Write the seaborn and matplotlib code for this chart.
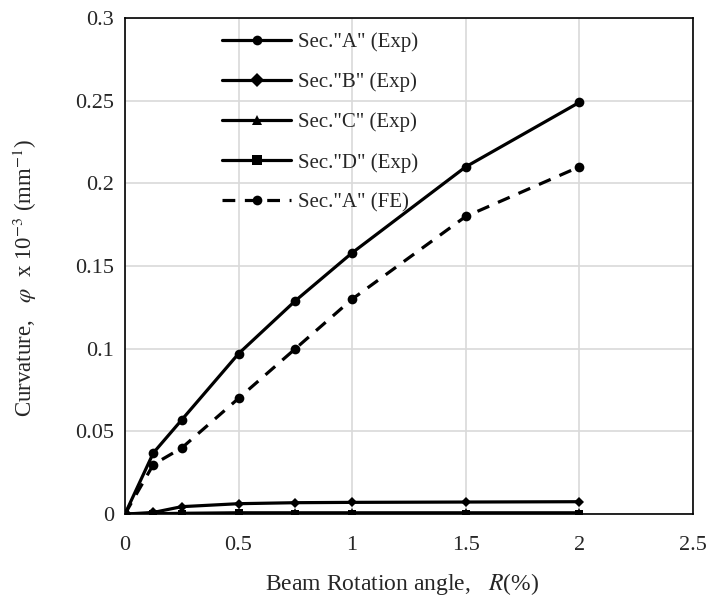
import numpy as np
import pandas as pd
import matplotlib
matplotlib.use("Agg")
import matplotlib.pyplot as plt
import seaborn as sns

# ---- data ----
rotation = [0, 0.125, 0.25, 0.5, 0.75, 1.0, 1.5, 2.0]
sec_a_exp = [0, 0.037, 0.057, 0.097, 0.129, 0.158, 0.210, 0.249]
sec_b_exp = [0, 0.0010, 0.0045, 0.0063, 0.0069, 0.0071, 0.0073, 0.0075]
sec_c_exp = [0, 0.0002, 0.0005, 0.0008, 0.0008, 0.0008, 0.0008, 0.0008]
sec_d_exp = [0, 0.0000, 0.0000, 0.0004, 0.0000, 0.0000, 0.0000, 0.0000]
sec_a_fe = [0, 0.030, 0.040, 0.070, 0.100, 0.130, 0.180, 0.210]

series_names = ['Sec."A" (Exp)', 'Sec."B" (Exp)', 'Sec."C" (Exp)',
                'Sec."D" (Exp)', 'Sec."A" (FE)']
series_values = [sec_a_exp, sec_b_exp, sec_c_exp, sec_d_exp, sec_a_fe]

x_ticks = [0, 0.5, 1, 1.5, 2, 2.5]
y_ticks = [0, 0.05, 0.1, 0.15, 0.2, 0.25, 0.3]
y_tick_labels = ["0", "0.05", "0.1", "0.15", "0.2", "0.25", "0.3"]
x_tick_labels = ["0", "0.5", "1", "1.5", "2", "2.5"]

rows = []
for name, vals in zip(series_names, series_values):
    for x, y in zip(rotation, vals):
        rows.append({"R": x, "phi": y, "Series": name})
df = pd.DataFrame(rows)

sns.set_theme(style="white")
plt.rcParams["font.family"] = ["Liberation Serif", "DejaVu Serif"]
plt.rcParams["mathtext.fontset"] = "stix"

fig = plt.figure(figsize=(7.18, 6.02), dpi=100)
ax = fig.add_axes([0.174, 0.146, 0.791, 0.824])

markers = {series_names[0]: "o", series_names[1]: "D", series_names[2]: "^",
           series_names[3]: "s", series_names[4]: "o"}
dashes = {series_names[0]: "", series_names[1]: "", series_names[2]: "",
          series_names[3]: "", series_names[4]: (4, 3)}
sizes_m = {series_names[0]: 7, series_names[1]: 5.5, series_names[2]: 6.5,
           series_names[3]: 6, series_names[4]: 7}

sns.lineplot(data=df, x="R", y="phi", hue="Series", style="Series",
             hue_order=series_names, style_order=series_names,
             palette=["black"] * 5, markers=markers, dashes=dashes,
             sort=False, linewidth=2.3, markersize=7, markeredgewidth=0,
             ax=ax, legend=True)

for line, name in zip(ax.get_lines()[:5], series_names):
    line.set_markersize(sizes_m[name])

ax.set_xlim(0, 2.5)
ax.set_ylim(0, 0.3)
ax.set_xticks(x_ticks)
ax.set_xticklabels(x_tick_labels)
ax.set_yticks(y_ticks)
ax.set_yticklabels(y_tick_labels)
ax.tick_params(axis="both", labelsize=16, length=0)
ax.tick_params(axis="x", pad=16)
ax.tick_params(axis="y", pad=8)
ax.grid(True, color="#d9d9d9", linewidth=1.2)
ax.set_axisbelow(True)
for sp in ax.spines.values():
    sp.set_color("black")
    sp.set_linewidth(1.2)

ax.set_xlabel(r"Beam Rotation angle,   $R$(%)", fontsize=17)
ax.set_ylabel(r"Curvature,   $\varphi$  x 10$^{-3}$ (mm$^{-1}$)", fontsize=16.5)
ax.xaxis.set_label_coords(0.488, -0.114)
ax.yaxis.set_label_coords(-0.152, 0.476)

handles, labels = ax.get_legend_handles_labels()
leg = ax.legend(handles, labels, loc="upper left", bbox_to_anchor=(0.157, 0.988),
                frameon=False, fontsize=15, handlelength=3.3,
                labelspacing=0.98, handletextpad=0.35, borderaxespad=0)
for h in leg.legend_handles:
    h.set_linewidth(2.3)

fig.savefig("out.png", dpi=100)
